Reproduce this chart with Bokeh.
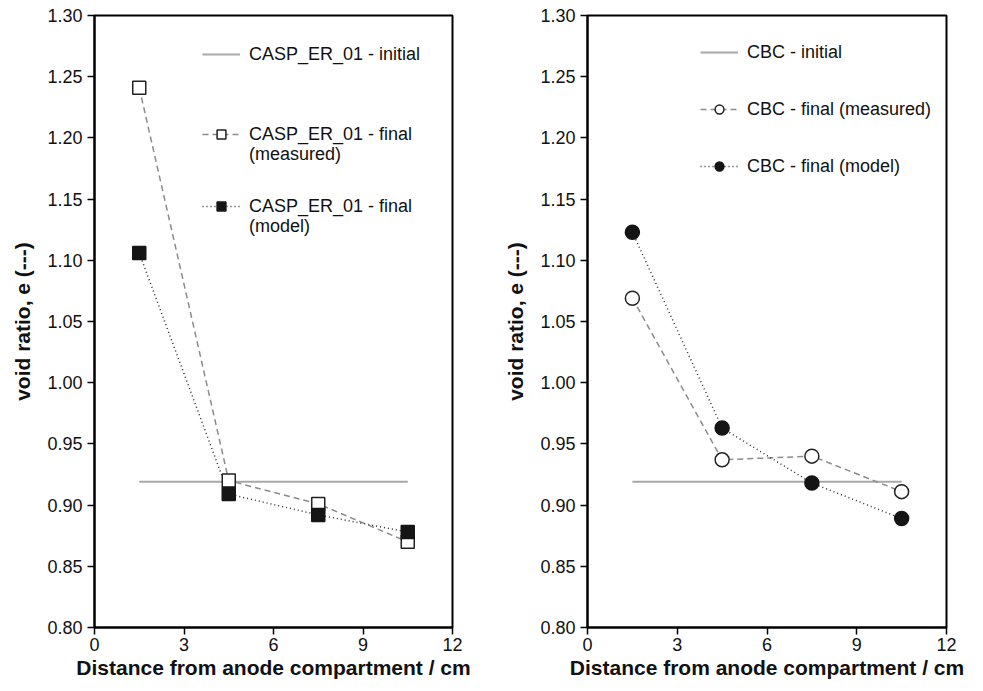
from bokeh.plotting import figure
from bokeh.layouts import row
from bokeh.models import Legend, LegendItem, FixedTicker, NumeralTickFormatter, Range1d
from bokeh.embed import file_html
from bokeh.resources import INLINE

# ---- data ----
x_pos = [1.5, 4.5, 7.5, 10.5]
initial_x = [1.5, 10.5]

casp_initial = [0.919, 0.919]
casp_measured = [1.241, 0.920, 0.901, 0.870]
casp_model = [1.106, 0.909, 0.892, 0.878]

cbc_initial = [0.919, 0.919]
cbc_measured = [1.069, 0.937, 0.940, 0.911]
cbc_model = [1.123, 0.963, 0.918, 0.889]

x_ticks = [0, 3, 6, 9, 12]
y_ticks = [0.80, 0.85, 0.90, 0.95, 1.00, 1.05, 1.10, 1.15, 1.20, 1.25, 1.30]

x_label = "Distance from anode compartment / cm"
y_label = "void ratio, e (---)"

FONT = "Liberation Sans"


def make_fig(width, bl, br):
    p = figure(width=width, height=683, output_backend="svg", toolbar_location=None,
               x_range=Range1d(0, 12), y_range=Range1d(0.80, 1.30),
               min_border_left=bl, min_border_right=br, min_border_top=15, min_border_bottom=56)
    p.xgrid.visible = False
    p.ygrid.visible = False
    p.outline_line_color = "black"
    p.outline_line_width = 2
    p.xaxis.ticker = FixedTicker(ticks=x_ticks)
    p.yaxis.ticker = FixedTicker(ticks=y_ticks)
    p.yaxis.formatter = NumeralTickFormatter(format="0.00")
    for ax in (p.xaxis, p.yaxis):
        ax.axis_line_width = 2
        ax.axis_line_color = "black"
        ax.major_tick_line_width = 1.5
        ax.major_tick_line_color = "black"
        ax.major_tick_out = 7
        ax.major_tick_in = 0
        ax.minor_tick_line_color = None
        ax.major_label_text_font = FONT
        ax.major_label_text_font_size = "18px"
        ax.major_label_text_color = "#111111"
        ax.axis_label_text_font = FONT
        ax.axis_label_text_font_size = "21px"
        ax.axis_label_text_font_style = "bold"
        ax.axis_label_text_color = "#111111"
    p.xaxis.axis_label = x_label
    p.yaxis.axis_label = y_label
    p.xaxis.major_label_standoff = 3
    p.yaxis.major_label_standoff = 5
    p.xaxis.axis_label_standoff = 2
    p.yaxis.axis_label_standoff = 10
    return p


def make_legend(items, loc, spacing=0):
    lg = Legend(items=items, location=loc, spacing=spacing)
    lg.border_line_alpha = 0
    lg.background_fill_alpha = 0
    lg.padding = 0
    lg.margin = 0
    lg.label_text_font = FONT
    lg.label_text_font_size = "18px"
    lg.label_text_color = "#111111"
    lg.glyph_width = 38
    lg.glyph_height = 22
    lg.label_height = 22
    lg.label_standoff = 9
    return lg


# ---- left panel ----
p1 = make_fig(480, 94, 28)
r_init1 = p1.line(initial_x, casp_initial, line_color="#a8a8a8", line_width=2)
r_ml1 = p1.line(x_pos, casp_measured, line_color="#8c8c8c", line_width=1.5, line_dash="6 4")
r_dl1 = p1.line(x_pos, casp_model, line_color="#333333", line_width=1.5, line_dash="1 3")
r_ms1 = p1.scatter(x_pos, casp_measured, marker="square", size=13, fill_color="white",
                   line_color="#222222", line_width=1.5)
r_ds1 = p1.scatter(x_pos, casp_model, marker="square", size=13, fill_color="#151515",
                   line_color="#151515", line_width=1.5)

p1.add_layout(make_legend([LegendItem(label="CASP_ER_01 - initial", renderers=[r_init1])],
                          (108, 562)))
p1.add_layout(make_legend([LegendItem(label="CASP_ER_01 - final", renderers=[r_ml1, r_ms1])],
                          (108, 482)))
p1.add_layout(make_legend([LegendItem(label="(measured)", renderers=[])],
                          (108, 462)))
p1.add_layout(make_legend([LegendItem(label="CASP_ER_01 - final", renderers=[r_dl1, r_ds1])],
                          (108, 410)))
p1.add_layout(make_legend([LegendItem(label="(model)", renderers=[])],
                          (108, 390)))

# ---- right panel ----
p2 = make_fig(495, 107, 29)
r_init2 = p2.line(initial_x, cbc_initial, line_color="#a8a8a8", line_width=2)
r_ml2 = p2.line(x_pos, cbc_measured, line_color="#8c8c8c", line_width=1.5, line_dash="6 4")
r_dl2 = p2.line(x_pos, cbc_model, line_color="#333333", line_width=1.5, line_dash="1 3")
r_ms2 = p2.scatter(x_pos, cbc_measured, marker="circle", size=14, fill_color="white",
                   line_color="#222222", line_width=1.5)
r_ds2 = p2.scatter(x_pos, cbc_model, marker="circle", size=14, fill_color="#151515",
                   line_color="#151515", line_width=1.5)

p2.add_layout(make_legend([LegendItem(label="CBC - initial", renderers=[r_init2]),
                           LegendItem(label="CBC - final (measured)", renderers=[r_ml2, r_ms2]),
                           LegendItem(label="CBC - final (model)", renderers=[r_dl2, r_ds2])],
                          (113, 450), spacing=35))

layout = row(p1, p2)
open("out.html", "w").write(file_html(layout, INLINE))
